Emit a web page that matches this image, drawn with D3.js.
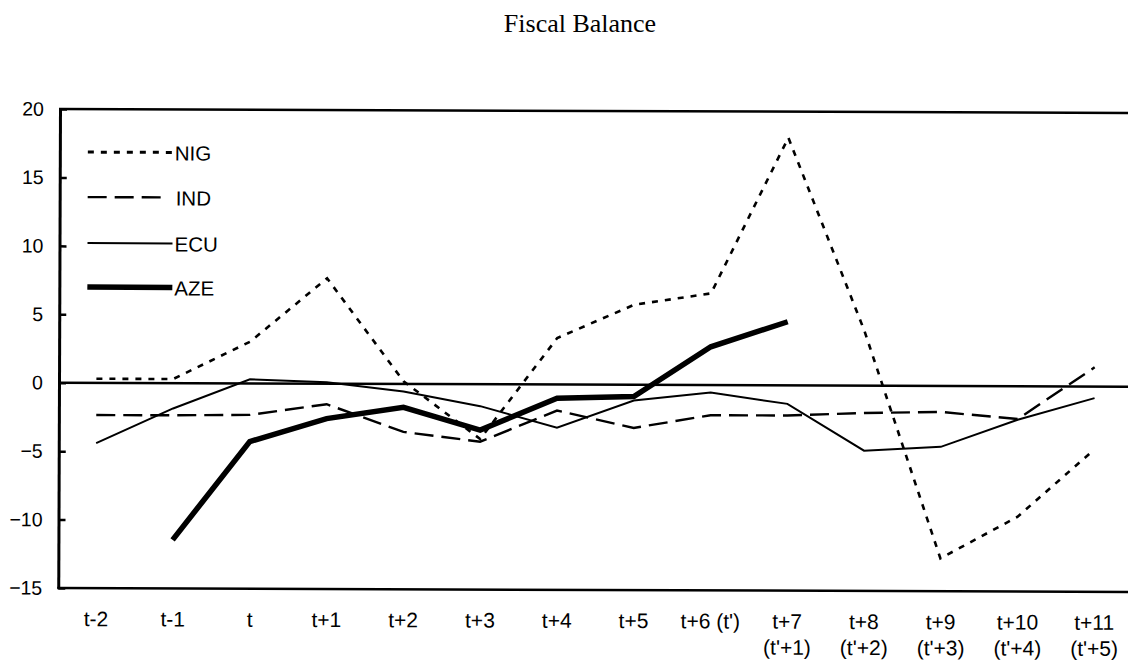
<!DOCTYPE html>
<html>
<head>
<meta charset="utf-8">
<script src="https://cdn.jsdelivr.net/npm/d3@7"></script>
<style>
  body { margin: 0; background: #fff; }
  svg text { font-family: "Liberation Sans", Arial, sans-serif; fill: #000; }
  .title { font-family: "Liberation Serif", "Times New Roman", serif; }
</style>
</head>
<body>
<div id="chart"></div>
<script>
// periods on the x axis (second line of label after \n)
var periods = ["t-2", "t-1", "t", "t+1", "t+2", "t+3", "t+4", "t+5", "t+6 (t')",
  "t+7\n(t'+1)", "t+8\n(t'+2)", "t+9\n(t'+3)", "t+10\n(t'+4)", "t+11\n(t'+5)"];

var nig = [0.3, 0.3, 3.05, 7.7, 0.2, -4.0, 3.4, 5.85, 6.7, 18.1, 4.0, -12.6, -9.55, -4.6];
var ind = [-2.35, -2.35, -2.3, -1.5, -3.5, -4.2, -1.9, -3.15, -2.2, -2.2, -2.0, -1.9, -2.4, 1.4];
var ecu = [-4.4, -1.85, 0.3, 0.1, -0.55, -1.6, -3.15, -1.15, -0.55, -1.35, -4.75, -4.45, -2.45, -0.85];
var aze = [null, -11.45, -4.25, -2.55, -1.7, -3.35, -1.0, -0.85, 2.8, 4.65, null, null, null, null];

var yTicks = [-15, -10, -5, 0, 5, 10, 15, 20];

var seriesNames = ["NIG", "IND", "ECU", "AZE"];
var seriesValues = [nig, ind, ecu, aze];

var width = 1128, height = 662;

var svg = d3.select("#chart").append("svg")
    .attr("width", width)
    .attr("height", height);

var xScale = d3.scalePoint()
    .domain(periods)
    .range([59, 1134])
    .padding(0.5);

var yScale = d3.scaleLinear()
    .domain([-15, 20])
    .range([588, 109]);

// line styles per series
var styles = {
  NIG: {width: 2.6, dash: "6,7"},
  IND: {width: 2.4, dash: "19,8"},
  ECU: {width: 2, dash: null},
  AZE: {width: 5.5, dash: null}
};

svg.append("text")
    .attr("class", "title")
    .attr("x", 580)
    .attr("y", 32)
    .attr("text-anchor", "middle")
    .attr("font-size", 26)
    .text("Fiscal Balance");

// the original scan is turned a little clockwise
var plot = svg.append("g")
    .attr("transform", "rotate(0.21, 60, 109)");

// frame: top and bottom lines
plot.append("line")
    .attr("x1", 59).attr("x2", width + 10)
    .attr("y1", yScale(20)).attr("y2", yScale(20))
    .attr("stroke", "#000").attr("stroke-width", 2.5);

plot.append("line")
    .attr("x1", 59).attr("x2", width + 10)
    .attr("y1", yScale(-15)).attr("y2", yScale(-15))
    .attr("stroke", "#000").attr("stroke-width", 2.5);

// zero line
plot.append("line")
    .attr("x1", 60).attr("x2", width + 10)
    .attr("y1", yScale(0)).attr("y2", yScale(0))
    .attr("stroke", "#000").attr("stroke-width", 2.5);

var yAxis = d3.axisLeft(yScale)
    .tickValues(yTicks)
    .tickFormat(d3.format("d"))
    .tickSizeInner(-7)
    .tickSizeOuter(0)
    .tickPadding(16);

var gy = plot.append("g")
    .attr("transform", "translate(60,0)")
    .call(yAxis);

gy.select(".domain").attr("stroke", "#000").attr("stroke-width", 3);
gy.selectAll(".tick line").attr("stroke", "#000").attr("stroke-width", 2.5);
gy.selectAll("text").attr("font-size", 19.5).attr("font-family", null);

var xAxis = d3.axisBottom(xScale)
    .tickSize(0)
    .tickPadding(0);

var gx = plot.append("g")
    .attr("transform", "translate(0," + yScale(-15) + ")")
    .call(xAxis);

gx.select(".domain").remove();
gx.selectAll("text")
    .attr("font-size", 21)
    .attr("font-family", null)
    .attr("dy", null)
    .attr("y", 38)
    .each(function(d) {
      var parts = d.split("\n");
      var t = d3.select(this).text(null);
      parts.forEach(function(p, i) {
        t.append("tspan")
          .attr("x", 0)
          .attr("y", 38 + i * 26)
          .text(p);
      });
    });

var line = d3.line()
    .defined(d => d.v != null)
    .x(d => xScale(d.p))
    .y(d => yScale(d.v));

seriesNames.forEach(function(name, k) {
  var pts = periods.map((p, i) => ({p: p, v: seriesValues[k][i]}));
  plot.append("path")
      .datum(pts)
      .attr("fill", "none")
      .attr("stroke", "#000")
      .attr("stroke-width", styles[name].width)
      .attr("stroke-dasharray", styles[name].dash)
      .attr("stroke-linejoin", "miter")
      .attr("d", line);
});

// legend
var legendY = [152, 197, 243, 287];
var legend = plot.append("g")
  .selectAll("g")
  .data(seriesNames)
  .join("g")
    .attr("transform", (d, i) => `translate(88,${legendY[i]})`);

legend.append("line")
    .attr("x1", 0)
    .attr("x2", d => d == "IND" ? 76 : 85)
    .attr("y1", 0).attr("y2", 0)
    .attr("stroke", "#000")
    .attr("stroke-width", d => d == "NIG" ? 3 : styles[d].width)
    .attr("stroke-dasharray", d => styles[d].dash);

legend.append("text")
    .attr("x", d => d == "IND" ? 88 : 87)
    .attr("y", 8)
    .attr("font-size", 20.5)
    .text(d => d);
</script>
</body>
</html>
